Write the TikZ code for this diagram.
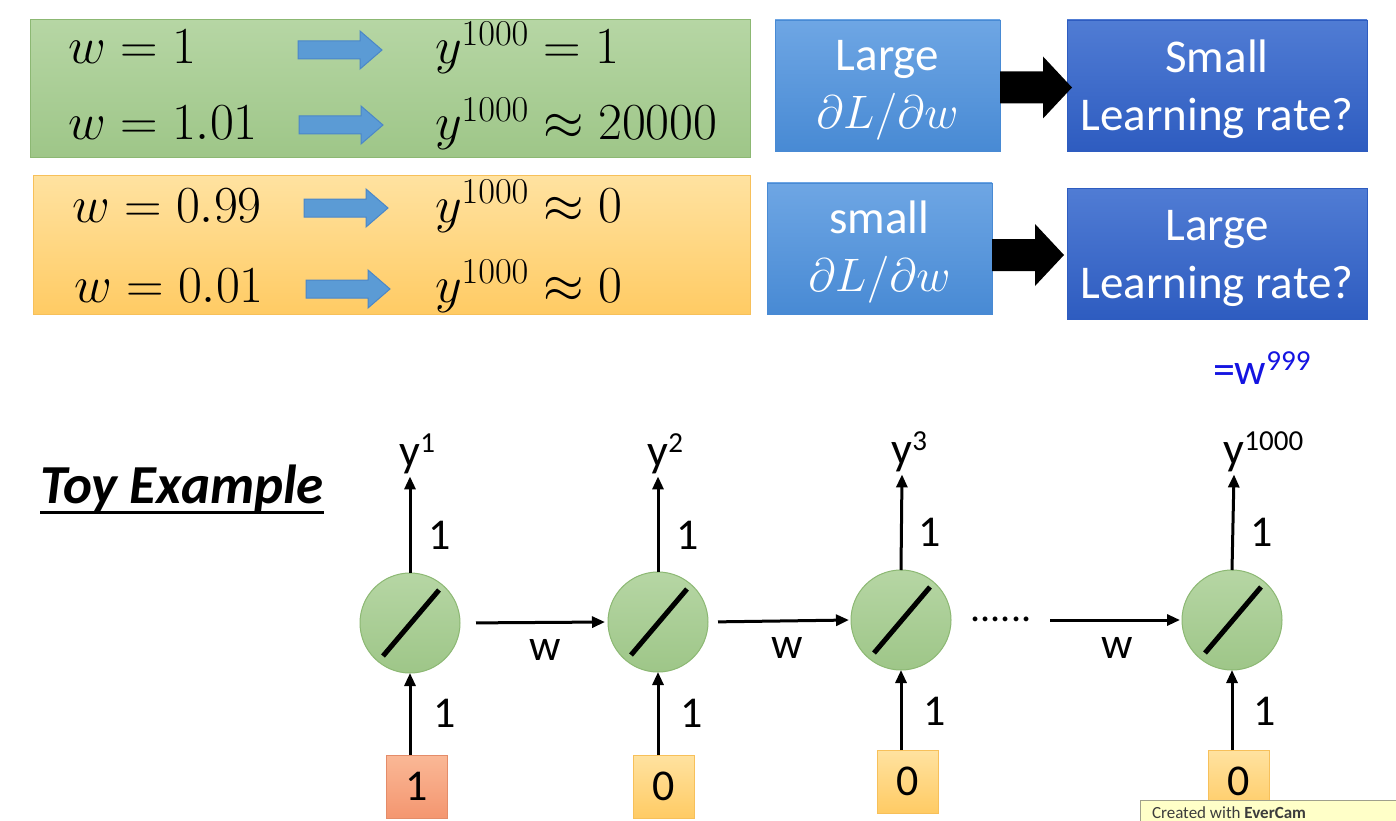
\RequirePackage{fix-cm}
\documentclass[tikz,border=0pt]{standalone}
\usepackage[no-math]{fontspec}
\setmainfont{Carlito}
\usetikzlibrary{arrows.meta,calc}
\newcommand\mysups[1]{\raisebox{0.3em}{\fontsize{29}{30}\selectfont #1}}
\definecolor{gtop}{RGB}{182,214,164}
\definecolor{gbot}{RGB}{158,198,136}
\definecolor{gbord}{RGB}{140,184,115}
\definecolor{otop}{RGB}{255,226,160}
\definecolor{obot}{RGB}{255,203,100}
\definecolor{obord}{RGB}{247,192,90}
\definecolor{lbtop}{RGB}{110,166,228}
\definecolor{lbbot}{RGB}{72,138,212}
\definecolor{dbtop}{RGB}{80,124,212}
\definecolor{dbbot}{RGB}{46,92,192}
\definecolor{arrblue}{RGB}{91,155,213}
\definecolor{arrbord}{RGB}{75,135,200}
\definecolor{salmtop}{RGB}{250,184,150}
\definecolor{salmbot}{RGB}{244,150,112}
\definecolor{salmbord}{RGB}{228,140,105}
\definecolor{wblue}{RGB}{20,20,225}
\definecolor{wmbord}{RGB}{160,160,140}
\definecolor{wmfill}{RGB}{255,255,200}
\definecolor{wmtext}{RGB}{60,60,60}
\begin{document}
\begin{tikzpicture}[x=1pt,y=-1pt,
  every node/.style={inner sep=0pt,outer sep=0pt},
  rowtxt/.style={anchor=base west,font=\fontsize{52}{62}\selectfont},
  greenbox/.style={draw=gbord,line width=1pt,top color=gtop,bottom color=gbot,minimum width=720,minimum height=138},
  orangebox/.style={draw=obord,line width=1pt,top color=otop,bottom color=obot,minimum width=717,minimum height=138},
  lightblue/.style={top color=lbtop,bottom color=lbbot,draw=lbbot,minimum width=225,minimum height=131,text=white,align=center,font=\fontsize{47}{58}\selectfont},
  darkblue/.style={top color=dbtop,bottom color=dbbot,draw=dbbot,minimum width=300,minimum height=131,text=white,align=center,font=\fontsize{47}{58}\selectfont},
  neuron/.style={circle,minimum size=100,top color=gtop,bottom color=gbot,draw=gbord,line width=1pt},
  inbox/.style={minimum width=61,minimum height=63,top color=otop,bottom color=obot,draw=obord,line width=1pt,font=\fontsize{44}{50}\selectfont},
  inboxr/.style={minimum width=61,minimum height=63,top color=salmtop,bottom color=salmbot,draw=salmbord,line width=1pt,font=\fontsize{44}{50}\selectfont},
  lbl/.style={font=\fontsize{44}{50}\selectfont},
  ylbl/.style={anchor=base,font=\fontsize{46}{50}\selectfont},
  conn/.style={line width=3pt,-{Triangle[length=13pt,width=11pt]}},
  barrow/.pic={\path[fill=arrblue,draw=arrbord,line width=1pt] (0,-9) -- (62,-9) -- (62,-19) -- (84,0) -- (62,19) -- (62,9) -- (0,9) -- cycle;},
  karrow/.pic={\fill[black] (0,-16) -- (43,-16) -- (43,-31) -- (72,0) -- (43,31) -- (43,16) -- (0,16) -- cycle;}
]
\path[use as bounding box] (0,0) rectangle (1396,821);
\clip (0,0) rectangle (1396,821);
\fill[white] (0,0) rectangle (1396,821);

% top left boxes
\node[greenbox] (gb) at (390,89) {};
\node[orangebox] (ob) at (391.5,245) {};
\node[rowtxt] (w1) at (68,64) {$w = 1$};
\node[rowtxt] (w2) at (68,140) {$w = 1.01$};
\node[rowtxt] (w3) at (72,222) {$w = 0.99$};
\node[rowtxt] (w4) at (74,302) {$w = 0.01$};
\node[rowtxt] (r1) at (435,64) {$y^{1000} = 1$};
\node[rowtxt] (r2) at (435,140) {$y^{1000} \approx 20000$};
\node[rowtxt] (r3) at (435,222) {$y^{1000} \approx 0$};
\node[rowtxt] (r4) at (435,302) {$y^{1000} \approx 0$};
\pic at (298,50) {barrow};
\pic at (299,125) {barrow};
\pic at (304,208) {barrow};
\pic at (306,289) {barrow};

% top right boxes
\node[lightblue] (L1) at (887.5,85.5) {\rule{0pt}{40pt}Large\\$\partial L/\partial w$};
\node[darkblue] (D1) at (1217,85.5) {\rule{0pt}{40pt}Small\\Learning rate?};
\node[lightblue] (L2) at (879.5,248.5) {\rule{0pt}{40pt}small\\$\partial L/\partial w$};
\node[darkblue] (D2) at (1217,254) {\rule{0pt}{40pt}Large\\Learning rate?};
\pic at ([yshift=-2pt]L1.east) {karrow};
\pic at ([yshift=-6.5pt]L2.east) {karrow};

% toy example
\node[anchor=base west,font=\fontsize{55}{64}\selectfont\bfseries\itshape] (toy) at (40,503) {Toy Example};
\draw[line width=3pt] ([yshift=-1pt]toy.south west) -- ([yshift=-1pt]toy.south east);

\node[anchor=base west,font=\fontsize{44}{50}\selectfont,text=wblue] (w999) at (1213,384) {=w\mysups{999}};

% neurons
\foreach \n/\x/\y in {1/410/623,2/658/622,3/901/620,4/1232/620}{
  \node[neuron] (n\n) at (\x,\y) {};
  \draw[line width=5pt] ($(n\n)+(-27,33)$) -- ($(n\n)+(29,-33)$);
}
\node[ylbl] (y1) at (410,466) {y\rlap{\mysups{1}}};
\node[ylbl] (y2) at (658,466) {y\rlap{\mysups{2}}};
\node[ylbl] (y3) at (902,464) {y\rlap{\mysups{3}}};
\node[ylbl] (y4) at (1234,464) {y\rlap{\mysups{1000}}};
\foreach \n in {1,2,3,4}{
  \draw[conn] (n\n.north) -- ([yshift=-3pt]y\n.south);
}
\node[lbl] (u1) at (440,535) {1};
\node[lbl] (u2) at (688,535) {1};
\node[lbl] (u3) at (930,532) {1};
\node[lbl] (u4) at (1262,532) {1};

\node[inboxr] (x1) at (417,786.5) {1};
\node[inbox] (x2) at (664,786.5) {0};
\node[inbox] (x3) at (908,781.5) {0};
\node[inbox] (x4) at (1239,781.5) {0};
\foreach \n in {1,2,3,4}{
  \draw[conn] (x\n.north -| n\n.south) -- (n\n.south);
}
\node[lbl] (b1) at (445,713) {1};
\node[lbl] (b2) at (692,713) {1};
\node[lbl] (b3) at (935,711) {1};
\node[lbl] (b4) at (1265,711) {1};

\draw[conn,shorten <=16pt,shorten >=3pt] (n1.east) -- (n2.west);
\draw[conn,shorten <=10pt,shorten >=2pt] (n2.east) -- (n3.west);
\node[anchor=base,font=\fontsize{40}{44}\selectfont] (dots) at (1001,621) {......};
\coordinate (c4) at (1050,620);
\draw[conn,shorten >=2pt] (c4) -- (n4.west);
\node[lbl] (wl1) at (545,650) {w};
\node[lbl] (wl2) at (787,648) {w};
\node[lbl] (wl3) at (1117,648) {w};

% watermark
\node[anchor=north west,draw=wmbord,fill=wmfill,minimum width=258,minimum height=40] (wm) at (1140,800) {};
\node[anchor=base west,font=\fontsize{17}{20}\selectfont,text=wmtext] (wmt) at (1152,818) {Created with \textbf{EverCam}};
\end{tikzpicture}
\end{document}
